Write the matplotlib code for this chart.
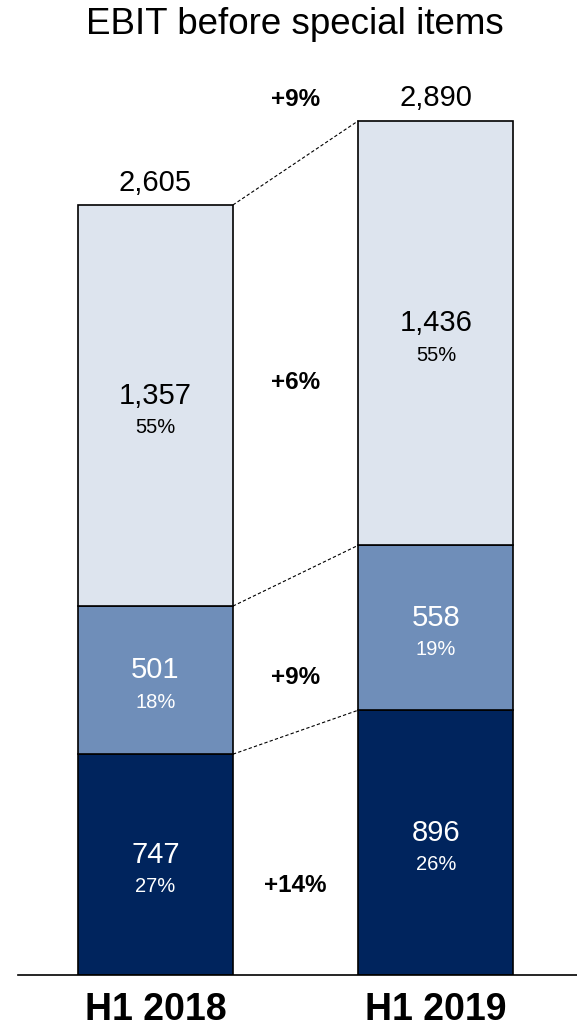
import matplotlib
matplotlib.use("Agg")
import matplotlib.pyplot as plt

plt.rcParams['font.family'] = ['Liberation Sans', 'DejaVu Sans']

periods = ["H1 2018", "H1 2019"]
segment_values = [
    [747, 896],     # bottom segment
    [501, 558],     # middle segment
    [1357, 1436],   # top segment
]
segment_shares = [
    ["27%", "26%"],
    ["18%", "19%"],
    ["55%", "55%"],
]
totals = [2605, 2890]
growth_labels = ["+14%", "+9%", "+6%", "+9%"]

colors = ["#00245D", "#6F8EB9", "#DDE4EE"]
text_colors = ["white", "white", "black"]

W, H = 577, 1031
fig = plt.figure(figsize=(W / 100, H / 100), dpi=100)
ax_left, ax_right, ax_bottom, ax_top = 18, 577, 975, 60
ax = fig.add_axes([ax_left / W, (H - ax_bottom) / H,
                   (ax_right - ax_left) / W, (ax_bottom - ax_top) / H])

px_per_unit = 0.2956
ax.set_ylim(0, (ax_bottom - ax_top) / px_per_unit)
ax.set_xlim(-0.490, 1.503)
bar_w = 0.5526
xs = [0, 1]

bottoms = [0, 0]
bounds = []
for k, vals in enumerate(segment_values):
    ax.bar(xs, vals, bar_w, bottom=bottoms, color=colors[k],
           edgecolor="black", linewidth=1.2, zorder=2)
    for i, x in enumerate(xs):
        yc = bottoms[i] + vals[i] / 2
        ax.annotate(f"{vals[i]:,}", (x, yc), xytext=(0, 7),
                    textcoords="offset points", ha="center", va="center",
                    fontsize=21, color=text_colors[k])
        ax.annotate(segment_shares[k][i], (x, yc), xytext=(0, -16),
                    textcoords="offset points", ha="center", va="center",
                    fontsize=14.5, color=text_colors[k])
    bottoms = [b + v for b, v in zip(bottoms, vals)]
    bounds.append(list(bottoms))

# totals above bars
for i, x in enumerate(xs):
    ax.annotate(f"{totals[i]:,}", (x, totals[i]), xytext=(0, 16),
                textcoords="offset points", ha="center", va="center",
                fontsize=21, color="black")

# dashed connectors between segment boundaries
for level in bounds:
    ax.plot([xs[0] + bar_w / 2, xs[1] - bar_w / 2], level,
            color="black", linestyle=(0, (3, 2)), linewidth=0.8, zorder=1)

# growth labels between the bars
growth_y = [304, 1005, 2003, 2963]
for lab, gy in zip(growth_labels, growth_y):
    ax.text(0.5, gy, lab, ha="center", va="center", fontsize=17.5,
            fontweight="bold", color="black")

ax.set_xticks(xs)
ax.set_xticklabels(periods, fontsize=27, fontweight="bold")
ax.tick_params(axis="x", length=0, pad=12)
ax.set_yticks([])
for s in ["top", "left", "right"]:
    ax.spines[s].set_visible(False)
ax.spines["bottom"].set_linewidth(1.2)

fig.text(295 / W, 1 - 24 / H, "EBIT before special items",
         ha="center", va="center", fontsize=26.5, color="black")

fig.savefig("out.png", dpi=100)
